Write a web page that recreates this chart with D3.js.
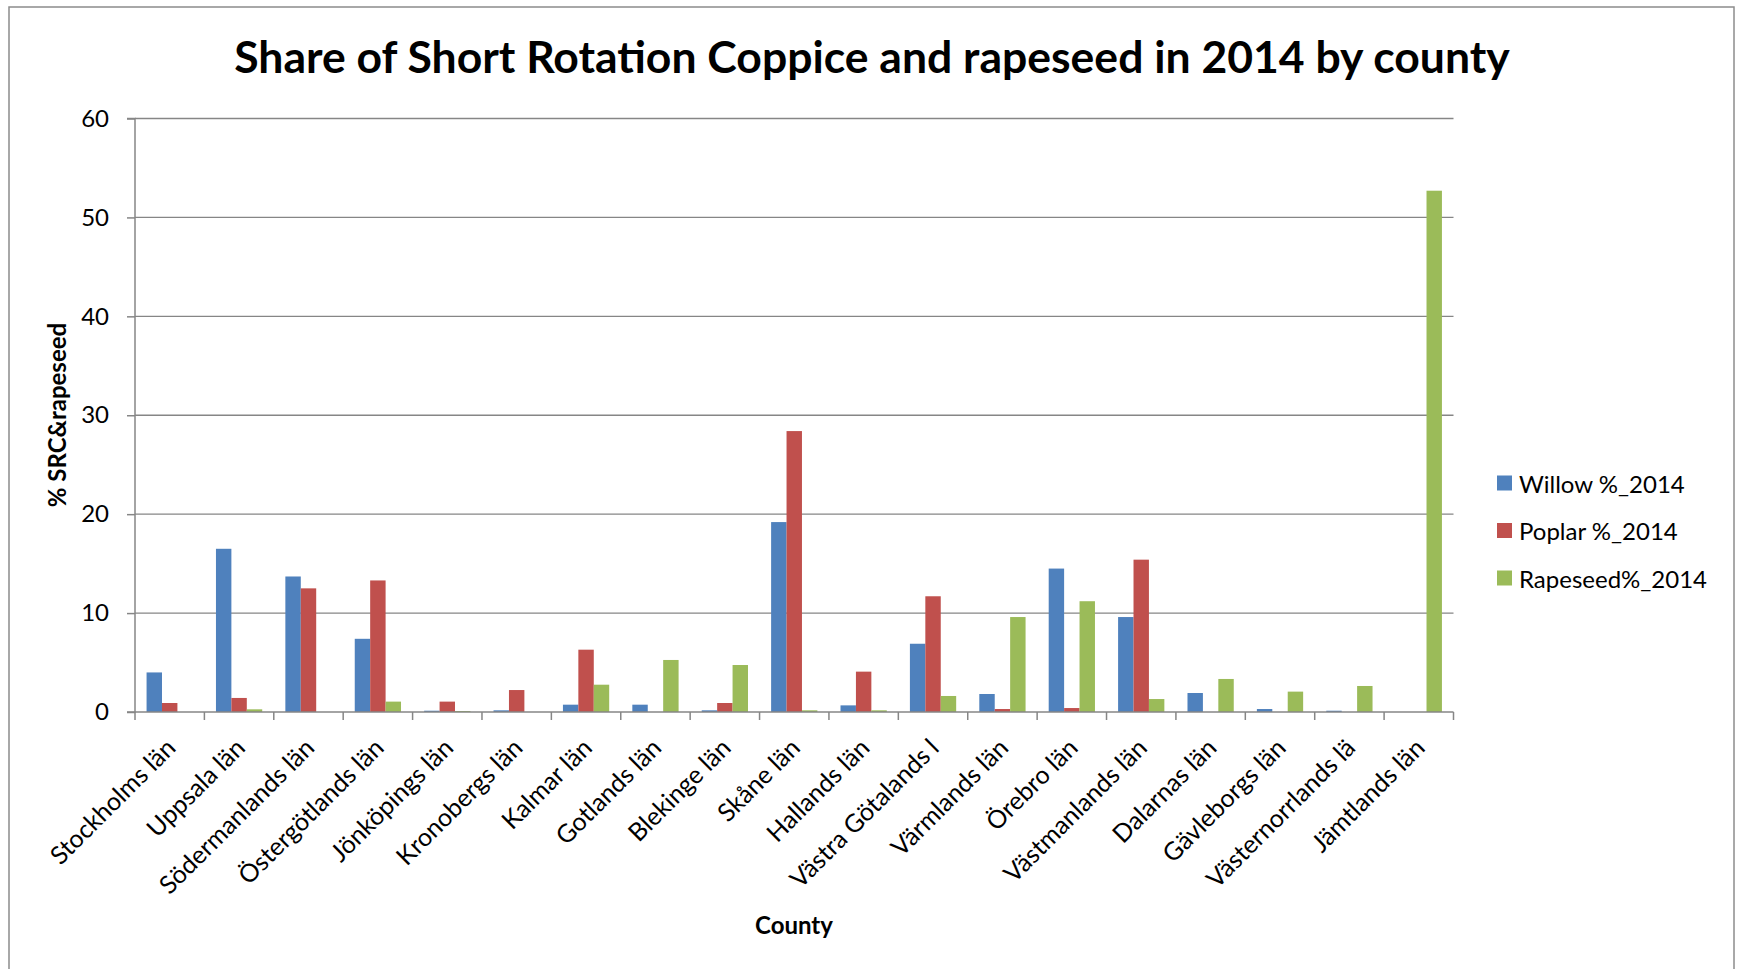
<!DOCTYPE html>
<html><head><meta charset="utf-8">
<script src="https://cdn.jsdelivr.net/npm/d3@7/dist/d3.min.js"></script>
<style>html,body{margin:0;padding:0;background:#fff;}svg{display:block;}</style>
</head><body>
<svg id="chart" width="1737" height="969"></svg>
<script>
const counties = ["Stockholms län","Uppsala län","Södermanlands län","Östergötlands län","Jönköpings län","Kronobergs län","Kalmar län","Gotlands län","Blekinge län","Skåne län","Hallands län","Västra Götalands l","Värmlands län","Örebro län","Västmanlands län","Dalarnas län","Gävleborgs län","Västernorrlands lä","Jämtlands län"];
const willow   = [4.0,16.5,13.7,7.4,0.13,0.17,0.74,0.74,0.17,19.2,0.67,6.9,1.82,14.5,9.6,1.92,0.3,0.13,0];
const poplar   = [0.91,1.42,12.5,13.3,1.05,2.22,6.3,0,0.91,28.4,4.08,11.7,0.3,0.4,15.4,0,0,0,0];
const rapeseed = [0,0.27,0,1.05,0.1,0,2.76,5.26,4.75,0.17,0.17,1.62,9.6,11.2,1.31,3.34,2.06,2.63,52.7];
const seriesNames = ["Willow %_2014","Poplar %_2014","Rapeseed%_2014"];
const seriesColors = ["#4F81BD","#C0504D","#9BBB59"];
const yTicks = [0,10,20,30,40,50,60];
const title = "Share of Short Rotation Coppice and rapeseed in 2014 by county";
const xTitle = "County";
const yTitle = "% SRC&rapeseed";

const seriesData = [willow, poplar, rapeseed];
const font = "Lato, 'Open Sans', sans-serif";
const svg = d3.select("#chart");
const plot = {left:135, right:1453.5, top:118.5, bottom:712};

// outer border
svg.append("rect").attr("x",9).attr("y",7).attr("width",1725).attr("height",975)
  .attr("fill","none").attr("stroke","#8c8c8c").attr("stroke-width",1.5);

const x = d3.scaleBand().domain(counties).range([plot.left, plot.right]).paddingInner(0).paddingOuter(0);
const bw = x.bandwidth();
const barW = bw/4.5;
const xs = d3.scaleBand().domain(d3.range(3)).range([0, barW*3]);
const y = d3.scaleLinear().domain([0,60]).range([plot.bottom, plot.top]);

// gridlines
svg.append("g").selectAll("line").data(yTicks.filter(d=>d>0)).join("line")
  .attr("x1",plot.left).attr("x2",plot.right).attr("y1",d=>y(d)).attr("y2",d=>y(d))
  .attr("stroke","#868686").attr("stroke-width",1.3);

// y axis
const yAxis = svg.append("g").attr("transform",`translate(${plot.left},0)`)
  .call(d3.axisLeft(y).tickValues(yTicks).tickSize(8).tickPadding(18).tickFormat(d3.format("d")));
yAxis.select(".domain").attr("stroke","#868686").attr("stroke-width",1.5).attr("d",`M-8,${plot.top}H0V${plot.bottom}H-8`);
yAxis.selectAll(".tick line").attr("stroke","#868686").attr("stroke-width",1.5);
yAxis.selectAll("text").attr("font-family",font).attr("font-size",24).attr("fill","#000");

// bars
const groups = svg.append("g").selectAll("g").data(counties).join("g")
  .attr("transform",d=>`translate(${x(d)+ (bw-barW*3)/2},0)`);
groups.selectAll("rect").data((d,i)=>seriesData.map((s,k)=>({k, v:s[i]}))).join("rect")
  .attr("x",d=>xs(d.k)).attr("width",xs.bandwidth())
  .attr("y",d=>y(d.v)).attr("height",d=>plot.bottom - y(d.v))
  .attr("fill",d=>seriesColors[d.k]);

// x axis
const xAxisG = svg.append("g").attr("transform",`translate(0,${plot.bottom})`);
xAxisG.append("line").attr("x1",plot.left).attr("x2",plot.right).attr("stroke","#868686").attr("stroke-width",1.5);
const bounds = counties.map(c=>x(c)).concat([plot.right]);
xAxisG.selectAll("line.tk").data(bounds).join("line").attr("class","tk")
  .attr("x1",d=>d).attr("x2",d=>d).attr("y1",0).attr("y2",8)
  .attr("stroke","#868686").attr("stroke-width",1.5);
xAxisG.selectAll("text").data(counties).join("text")
  .attr("transform",d=>`translate(${x(d)+bw/2+3},${33}) rotate(-45)`)
  .attr("text-anchor","end").attr("dominant-baseline","middle")
  .attr("font-family",font).attr("font-size",25).attr("fill","#000").text(d=>d);

// titles
svg.append("text").attr("x",872).attr("y",73).attr("text-anchor","middle")
  .attr("font-family",font).attr("font-weight","bold").attr("font-size",44.5).attr("fill","#000").text(title);
svg.append("text").attr("x",794).attr("y",934).attr("text-anchor","middle")
  .attr("font-family",font).attr("font-weight","bold").attr("font-size",24).attr("fill","#000").text(xTitle);
svg.append("text").attr("transform","translate(66,415) rotate(-90)").attr("text-anchor","middle")
  .attr("font-family",font).attr("font-weight","bold").attr("font-size",24).attr("fill","#000").text(yTitle);

// legend
const lg = svg.append("g").selectAll("g").data(seriesNames).join("g")
  .attr("transform",(d,i)=>`translate(1497,${483 + i*47.5})`);
lg.append("rect").attr("x",0).attr("y",-7.5).attr("width",15).attr("height",15).attr("fill",(d,i)=>seriesColors[i]);
lg.append("text").attr("x",22).attr("y",0).attr("dominant-baseline","central")
  .attr("font-family",font).attr("font-size",24).attr("fill","#000").text(d=>d);
</script>
</body></html>
